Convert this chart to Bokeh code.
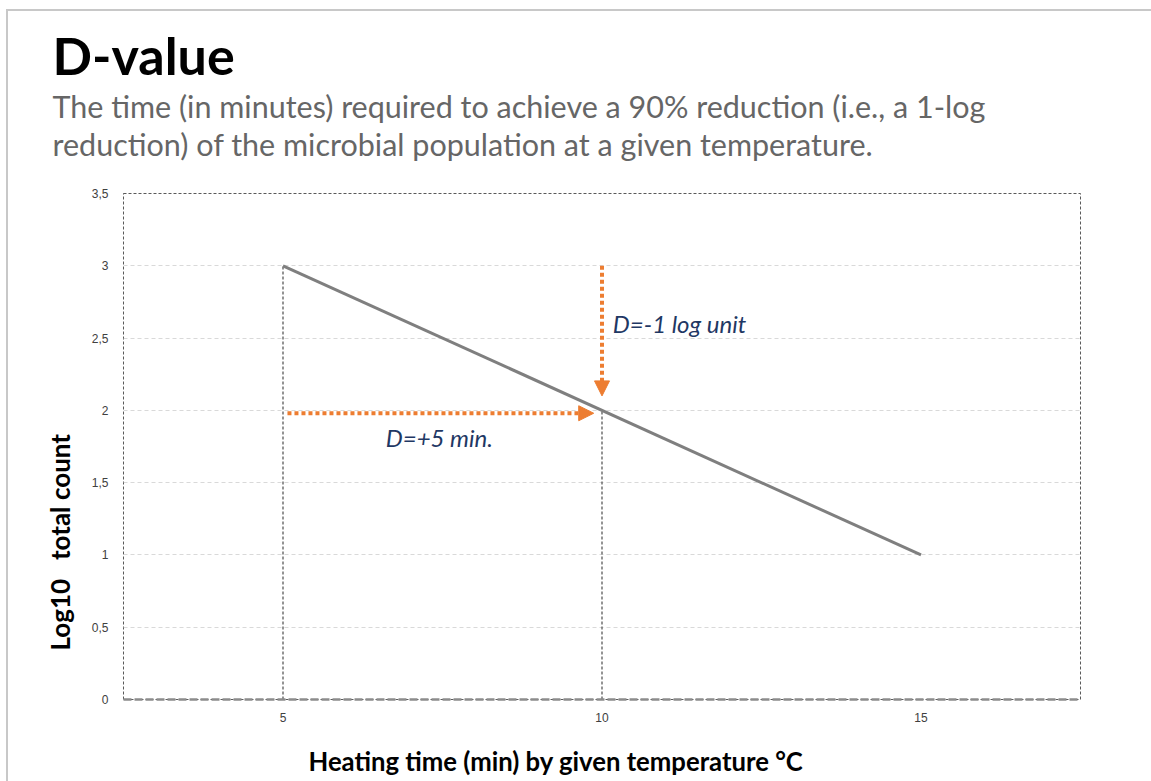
from bokeh.plotting import figure
from bokeh.models import Label, Arrow, NormalHead, FixedTicker, Range1d, Title
from bokeh.embed import file_html
from bokeh.resources import INLINE

# ---- data ----
line_x = [5, 15]          # heating time (min)
line_y = [3, 1]           # log10 total count
ref_time = 10             # time at 1-log reduction
ref_log = 2               # log count at ref_time
start_time = 5
start_log = 3
x_ticks = [5, 10, 15]
y_ticks = [0, 0.5, 1, 1.5, 2, 2.5, 3, 3.5]
y_tick_labels = ["0", "0,5", "1", "1,5", "2", "2,5", "3", "3,5"]

title_text = "D-value"
subtitle_lines = [
    "The time (in minutes) required to achieve a 90% reduction (i.e., a 1-log",
    "reduction) of the microbial population at a given temperature.",
]
x_label = "Heating time (min) by given temperature \u00b0C"
y_label = "Log10\u00a0\u00a0\u00a0total count"
annot_log = "D=-1 log unit"
annot_time = "D=+5 min."

ORANGE = "#ED7D31"
NAVY = "#1F3864"
FONT = "Lato"
W, H = 1151, 781

p = figure(width=W, height=H, x_range=Range1d(2.5, 17.5), y_range=Range1d(0, 3.5),
           output_backend="svg", toolbar_location=None, title_location=None,
           min_border_left=123, min_border_right=71, min_border_top=193, min_border_bottom=82)
p.background_fill_color = "white"
p.border_fill_color = None
p.styles = {"background": "linear-gradient(#c8c8c8,#c8c8c8) 7px 9px / 100% 2px no-repeat, "
                          "linear-gradient(#c8c8c8,#c8c8c8) 6px 9px / 2px 100% no-repeat, #ffffff"}
p.outline_line_color = "#595959"
p.outline_line_dash = "3 2"
p.outline_line_width = 1

p.xgrid.visible = False
p.ygrid.ticker = FixedTicker(ticks=y_ticks)
p.ygrid.grid_line_color = "#d9d9d9"
p.ygrid.grid_line_dash = "4 3"
p.ygrid.grid_line_width = 1

# axes
p.yaxis.ticker = FixedTicker(ticks=y_ticks)
p.yaxis.major_label_overrides = {t: l for t, l in zip(y_ticks, y_tick_labels)}
p.yaxis.axis_line_color = None
p.yaxis.major_label_standoff = 15
p.xaxis.ticker = FixedTicker(ticks=x_ticks)
p.xaxis.axis_line_color = "#8c8c8c"
p.xaxis.axis_line_width = 2.5
p.xaxis.axis_line_dash = "8 3"
p.xaxis.major_label_standoff = 13
for ax in (p.xaxis, p.yaxis):
    ax.major_tick_line_color = None
    ax.minor_tick_line_color = None
    ax.major_tick_out = 0
    ax.major_tick_in = 0
    ax.minor_tick_out = 0
    ax.major_label_text_font = "Liberation Sans"
    ax.major_label_text_font_size = "12px"
    ax.major_label_text_color = "#404040"

# drop lines
p.segment(x0=[start_time, ref_time], y0=[0, 0], x1=[start_time, ref_time], y1=[start_log, ref_log],
          line_color="#595959", line_dash="3 2", line_width=1.3)

# main line
p.line(line_x, line_y, line_color="#7f7f7f", line_width=3)

# arrows
p.add_layout(Arrow(end=NormalHead(size=15, fill_color=ORANGE, line_color=ORANGE, line_width=1),
                   x_start=ref_time, y_start=start_log, x_end=ref_time, y_end=ref_log + 0.1,
                   line_color=ORANGE, line_width=4, line_dash="4 3"))
p.add_layout(Arrow(end=NormalHead(size=15, fill_color=ORANGE, line_color=ORANGE, line_width=1),
                   x_start=start_time + 0.07, y_start=ref_log - 0.02, x_end=ref_time - 0.13,
                   y_end=ref_log - 0.02,
                   line_color=ORANGE, line_width=4, line_dash="4 3"))

p.add_layout(Label(x=ref_time + 0.17, y=2.6, text=annot_log, text_font=FONT, text_font_style="italic",
                   text_font_size="24px", text_color=NAVY, text_baseline="middle", text_align="left"))
p.add_layout(Label(x=7.45, y=1.81, text=annot_time, text_font=FONT, text_font_style="italic",
                   text_font_size="24px", text_color=NAVY, text_baseline="middle", text_align="center"))

# titles (stacked above the frame: first added is nearest the frame)
p.add_layout(Title(text=" ", text_font_size="1px", standoff=29, vertical_align="bottom"), "above")
p.add_layout(Title(text=subtitle_lines[1], align="left", offset=-71, standoff=0, vertical_align="bottom",
                   text_font=FONT, text_font_size="30.5px", text_font_style="normal",
                   text_color="#666666"), "above")
p.add_layout(Title(text=subtitle_lines[0], align="left", offset=-71, standoff=0, vertical_align="bottom",
                   text_font=FONT, text_font_size="30.5px", text_font_style="normal",
                   text_color="#666666"), "above")
p.add_layout(Title(text=title_text, align="left", offset=-71, standoff=0, vertical_align="bottom",
                   text_font=FONT, text_font_size="52px", text_font_style="bold",
                   text_color="black"), "above")

# axis titles (below: spacer then label, stacked away from the frame)
p.add_layout(Title(text=" ", text_font_size="1px", standoff=18, vertical_align="top"), "below")
p.add_layout(Title(text=x_label, align="left", offset=185, standoff=0, vertical_align="top",
                   text_font=FONT, text_font_size="25.7px", text_font_style="bold",
                   text_color="black"), "below")
p.add_layout(Title(text=y_label, align="left", offset=49, standoff=26, vertical_align="bottom",
                   text_font=FONT, text_font_size="26px", text_font_style="bold",
                   text_color="black"), "left")

open("out.html", "w").write(file_html(p, INLINE))
